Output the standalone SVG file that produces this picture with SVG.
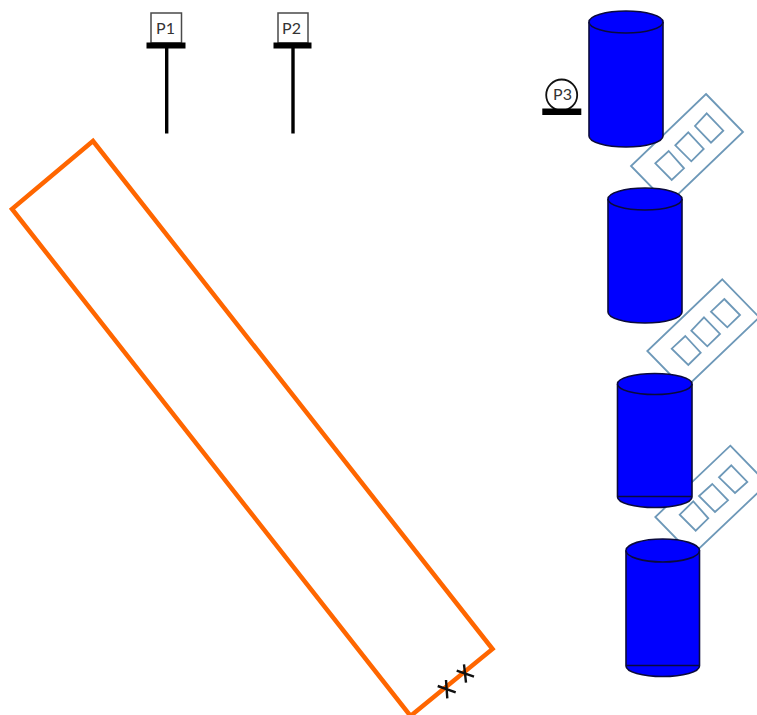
<svg xmlns="http://www.w3.org/2000/svg" width="757" height="715" viewBox="0 0 757 715">
  <style>
    .cyl{fill:#0000ff;stroke:#0a0a3c;stroke-width:1.6}
    .tray{fill:#fff;stroke:#6d98b8;stroke-width:1.8;stroke-linejoin:miter}
    .slot{fill:none;stroke:#6d98b8;stroke-width:1.8}
    .box{fill:#fff;stroke:#4a4a4a;stroke-width:1.5}
    .bar{fill:#000}
    .stem{stroke:#000;stroke-width:3.4;fill:none}
    .lbl{font-family:Lato,"Open Sans","Liberation Sans",sans-serif;font-size:16px;fill:#333;text-anchor:middle}
    .orange{fill:none;stroke:#ff6600;stroke-width:4.500;stroke-linejoin:miter}
    .x{stroke:#111;stroke-width:2.4;fill:none}
  </style>
  <rect width="757" height="715" fill="#fff"/>
  <g id="orange-strip">
    <polygon class="orange" points="93,141 12,209 410.500,716 492.500,649"/>
  </g>
  <g id="connectors">
    <path class="x" d="M437.700 686L455.700 692.300M446 680L447.300 698.300"/>
    <path class="x" d="M456.700 670.700L474 676.700M464 664.300L466 682.700"/>
  </g>
  <g id="P1">
    <rect class="box" x="151" y="13" width="30.500" height="30"/>
    <rect class="bar" x="146.500" y="42.500" width="39" height="6"/>
    <line class="stem" x1="166.700" y1="48" x2="166.700" y2="133.500"/>
    <text class="lbl" x="165.500" y="33.500">P1</text>
  </g>
  <g id="P2">
    <rect class="box" x="278" y="13" width="30" height="30"/>
    <rect class="bar" x="273.500" y="42.500" width="38" height="6"/>
    <line class="stem" x1="293" y1="48" x2="293" y2="133.500"/>
    <text class="lbl" x="291.500" y="33.500">P2</text>
  </g>
  <g id="P3">
    <circle cx="561.700" cy="95" r="15.500" fill="#fff" stroke="#111" stroke-width="1.800"/>
    <rect class="bar" x="542.300" y="108.500" width="39" height="6.500"/>
    <text class="lbl" x="562.500" y="100">P3</text>
  </g>
  <g id="tray1">
    <polygon class="tray" points="706,94 743,132 668,204 631,166"/>
    <polygon class="slot" points="706.700,113.300 723.300,130.700 711,142.700 695,126"/>
    <polygon class="slot" points="688.300,132.300 703.700,149 691.300,161.300 675.300,145.300"/>
    <polygon class="slot" points="668.700,151 684,168.300 671.700,180 655.300,163.300"/>
  </g>
  <g id="tray2">
    <polygon class="tray" points="722.300,279.300 759.300,317.300 684.300,389 647.300,351"/>
    <polygon class="slot" points="724.300,299 740,315 727.300,327.300 711,311.700"/>
    <polygon class="slot" points="704,317.300 720,334 707.300,346.300 691.300,330.700"/>
    <polygon class="slot" points="685.300,336 700.700,352.700 688.300,365 671.700,348.700"/>
  </g>
  <g id="tray3">
    <polygon class="tray" points="730.300,445.700 767.300,483.700 692.300,555 655.300,517"/>
    <polygon class="slot" points="731.300,465.300 747.300,482 735,493 719,477.300"/>
    <polygon class="slot" points="712.300,484 728,500.300 715,512 699,496"/>
    <polygon class="slot" points="693.300,501.300 708.300,518.300 695.700,530.700 679.700,514.700"/>
  </g>
  <g id="cylinder1">
    <path class="cyl" d="M589 22V136A37 11 0 0 0 663 136V22A37 11 0 0 0 589 22Z"/>
    <path class="cyl" d="M589 22A37 11 0 0 0 663 22"/>
  </g>
  <g id="cylinder2">
    <path class="cyl" d="M608 199V312A37 11 0 0 0 682 312V199A37 11 0 0 0 608 199Z"/>
    <path class="cyl" d="M608 199A37 11 0 0 0 682 199"/>
  </g>
  <g id="cylinder3">
    <path class="cyl" d="M617.500 384V497A37.250 10.500 0 0 0 692 497V384A37.250 10.500 0 0 0 617.500 384Z"/>
    <path class="cyl" d="M617.500 384A37.250 10.500 0 0 0 692 384"/>
    <line class="cyl" x1="617.500" y1="496.500" x2="692" y2="496.500"/>
  </g>
  <g id="cylinder4">
    <path class="cyl" d="M626 550.500V666A36.750 10.500 0 0 0 699.500 666V550.500A36.750 11.500 0 0 0 626 550.500Z"/>
    <path class="cyl" d="M626 550.500A36.750 11.500 0 0 0 699.500 550.500"/>
    <line class="cyl" x1="626" y1="665.500" x2="699.500" y2="665.500"/>
  </g>
</svg>
